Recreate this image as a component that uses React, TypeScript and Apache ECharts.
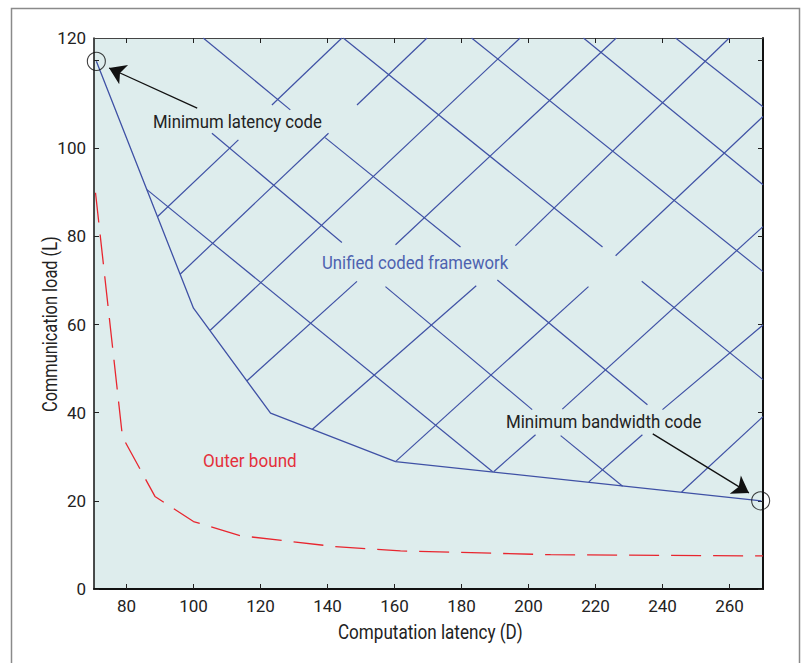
import React, { useEffect, useRef } from "react";
import * as echarts from "echarts";

// ---- axes ----
const X_MIN = 70.3;
const X_MAX = 270;
const Y_MIN = 0;
const Y_MAX = 125;
const xTicks = [80, 100, 120, 140, 160, 180, 200, 220, 240, 260];
const yTicks = [0, 20, 40, 60, 80, 100, 120];
// the top label "120" is printed at the top edge of the frame in the reference
const yLabelPositions = [0, 20, 40, 60, 80, 100, 125];
const yLabelTexts = ["0", "20", "40", "60", "80", "100", "120"];
const xTitle = "Computation latency (D)";
const yTitle = "Communication load (L)";

// ---- unified coded framework boundary (D, L) ----
const boundaryD = [71, 100, 123, 160.3, 269.5];
const boundaryL = [119.7, 63.7, 39.9, 28.9, 20];

// ---- outer bound (dashed) ----
const outerD = [70.75, 78.8, 88.5, 100, 113.9, 141.8, 161.8, 206.6, 270];
const outerL = [89.9, 34.5, 21.0, 15.3, 12.1, 9.66, 8.65, 7.78, 7.5];

// ---- hatch segments [D1, L1, D2, L2] ----
const hatchDown = [
  [86.1, 90.6, 189.3, 26.6],
  [105.5, 103.4, 144.3, 78.6],
  [157.3, 68.6, 201.1, 40.7],
  [209.6, 34.8, 228.1, 23.3],
  [102.9, 125, 128.9, 108.7],
  [139.3, 102.4, 179.7, 77.6],
  [190.7, 70.1, 235.5, 41.8],
  [144.7, 125, 222.1, 77.6],
  [233.8, 69.8, 270, 47.5],
  [183.0, 125, 270, 72.0],
  [216.4, 125, 270, 91.7],
  [243.9, 125, 270, 109.4],
];
const hatchUp = [
  [89.3, 84.5, 113.4, 101.9],
  [123.4, 109.8, 144.3, 125],
  [96.0, 71.4, 140.3, 103.4],
  [148.8, 109.8, 169.7, 125],
  [105.0, 58.7, 197.5, 125],
  [115.9, 47.2, 148.8, 69.8],
  [160.3, 78.1, 226.2, 125],
  [135.4, 36.2, 184.4, 68.8],
  [196.1, 77.9, 259.9, 125],
  [160.3, 28.9, 217.9, 68.6],
  [226.0, 75.6, 270, 107.2],
  [189.6, 26.6, 202.1, 35.0],
  [210.1, 40.8, 270, 82.2],
  [218.0, 24.3, 234.0, 35.0],
  [240.0, 40.7, 270, 59.9],
  [245.7, 22.0, 270, 39.1],
];

// ---- highlighted codes and arrows ----
const codePoints = [
  [71, 119.7],
  [269.3, 20],
];
const arrowLatency = [
  [101.1, 109.1],
  [74.8, 118.2],
];
const arrowBandwidth = [
  [237.1, 35.2],
  [265.8, 21.8],
];

const BLUE = "#3f51a5";
const RED = "#e8262f";
const FONT = "Roboto, 'Noto Sans', sans-serif";
const TEXT = "#222";

export default function App() {
  const ref = useRef<HTMLDivElement>(null);

  useEffect(() => {
    if (!ref.current) return;
    const chart = echarts.init(ref.current, undefined, { renderer: "svg" });

    const hatchData = [...hatchDown, ...hatchUp].map((s) => ({
      coords: [
        [s[0], s[1]],
        [s[2], s[3]],
      ],
    }));

    const option: any = {
      animation: false,
      grid: {
        left: 94,
        right: 41,
        top: 38,
        bottom: 74,
        show: true,
        backgroundColor: "#deeded",
        borderWidth: 0,
      },
      xAxis: [
        {
          type: "value",
          min: X_MIN,
          max: X_MAX,
          position: "bottom",
          axisLine: { show: true, onZero: false, lineStyle: { color: "#111", width: 2 } },
          axisTick: { show: true, inside: true, length: 5, customValues: xTicks, lineStyle: { color: "#222" } },
          axisLabel: {
            show: true,
            customValues: xTicks,
            margin: 8,
            fontFamily: FONT,
            fontSize: 17,
            color: TEXT,
          },
          splitLine: { show: false },
        },
        {
          type: "value",
          min: X_MIN,
          max: X_MAX,
          position: "top",
          axisLine: { show: true, onZero: false, lineStyle: { color: "#444", width: 1 } },
          axisTick: { show: true, inside: true, length: 5, customValues: xTicks, lineStyle: { color: "#222" } },
          axisLabel: { show: false },
          splitLine: { show: false },
        },
      ],
      yAxis: [
        {
          type: "value",
          min: Y_MIN,
          max: Y_MAX,
          position: "left",
          axisLine: { show: true, onZero: false, lineStyle: { color: "#111", width: 1.5 } },
          axisTick: { show: true, inside: true, length: 5, customValues: yTicks, lineStyle: { color: "#222" } },
          axisLabel: {
            show: true,
            customValues: yLabelPositions,
            formatter: (v: number) => yLabelTexts[yLabelPositions.indexOf(v)] ?? String(v),
            margin: 8,
            fontFamily: FONT,
            fontSize: 17,
            color: TEXT,
          },
          splitLine: { show: false },
        },
        {
          type: "value",
          min: Y_MIN,
          max: Y_MAX,
          position: "right",
          axisLine: { show: true, onZero: false, lineStyle: { color: "#111", width: 2 } },
          axisTick: { show: true, inside: true, length: 5, customValues: yTicks, lineStyle: { color: "#222" } },
          axisLabel: { show: false },
          splitLine: { show: false },
        },
      ],
      series: [
        {
          type: "lines",
          coordinateSystem: "cartesian2d",
          xAxisIndex: 0,
          yAxisIndex: 0,
          data: hatchData,
          lineStyle: { color: BLUE, width: 1.2, opacity: 1 },
          symbol: "none",
          z: 2,
        },
        {
          type: "line",
          xAxisIndex: 0,
          yAxisIndex: 0,
          data: boundaryD.map((d, i) => [d, boundaryL[i]]),
          symbol: "none",
          lineStyle: { color: BLUE, width: 1.3 },
          z: 3,
        },
        {
          type: "line",
          xAxisIndex: 0,
          yAxisIndex: 0,
          data: outerD.map((d, i) => [d, outerL[i]]),
          symbol: "none",
          lineStyle: { color: RED, width: 1.3, type: [30, 12] },
          z: 3,
        },
        {
          type: "scatter",
          xAxisIndex: 0,
          yAxisIndex: 0,
          data: codePoints,
          symbol: "circle",
          symbolSize: 18,
          itemStyle: { color: "rgba(0,0,0,0)", borderColor: "#111", borderWidth: 1.1 },
          z: 4,
        },
        {
          type: "lines",
          coordinateSystem: "cartesian2d",
          xAxisIndex: 0,
          yAxisIndex: 0,
          data: [{ coords: arrowLatency }, { coords: arrowBandwidth }],
          symbol: ["none", "arrow"],
          symbolSize: [1, 16],
          lineStyle: { color: "#111", width: 1.3, opacity: 1 },
          z: 5,
        },
      ],
      graphic: [
        {
          type: "rect",
          left: 9,
          top: 6,
          shape: { width: 788, height: 700 },
          style: { fill: "none", stroke: "#8a8a8a", lineWidth: 1.5 },
          silent: true,
          z: -10,
        },
        {
          type: "text",
          x: 338,
          y: 633,
          scaleX: 0.855,
          style: {
            text: xTitle,
            fill: TEXT,
            font: `20px ${FONT}`,
            textAlign: "left",
            textVerticalAlign: "middle",
          },
          z: 10,
        },
        {
          type: "text",
          x: 49.5,
          y: 412,
          rotation: Math.PI / 2,
          scaleX: 0.82,
          style: {
            text: yTitle,
            fill: TEXT,
            font: `20px ${FONT}`,
            textAlign: "left",
            textVerticalAlign: "middle",
          },
          z: 10,
        },
        {
          type: "text",
          x: 153,
          y: 122,
          scaleX: 0.93,
          style: {
            text: "Minimum latency code",
            fill: TEXT,
            font: `18px ${FONT}`,
            textAlign: "left",
            textVerticalAlign: "middle",
          },
          z: 10,
        },
        {
          type: "text",
          x: 506,
          y: 422,
          scaleX: 0.94,
          style: {
            text: "Minimum bandwidth code",
            fill: TEXT,
            font: `18px ${FONT}`,
            textAlign: "left",
            textVerticalAlign: "middle",
          },
          z: 10,
        },
        {
          type: "text",
          x: 322,
          y: 263,
          scaleX: 0.93,
          style: {
            text: "Unified coded framework",
            fill: "#4d62b0",
            font: `18px ${FONT}`,
            textAlign: "left",
            textVerticalAlign: "middle",
          },
          z: 10,
        },
        {
          type: "text",
          x: 203,
          y: 461,
          scaleX: 0.95,
          style: {
            text: "Outer bound",
            fill: "#e4303b",
            font: `18px ${FONT}`,
            textAlign: "left",
            textVerticalAlign: "middle",
          },
          z: 10,
        },
      ],
    };

    chart.setOption(option);
    return () => {
      chart.dispose();
    };
  }, []);

  return (
    <div
      ref={ref}
      style={{ position: "fixed", left: 0, top: 0, width: 804, height: 663, background: "#fff" }}
    />
  );
}
